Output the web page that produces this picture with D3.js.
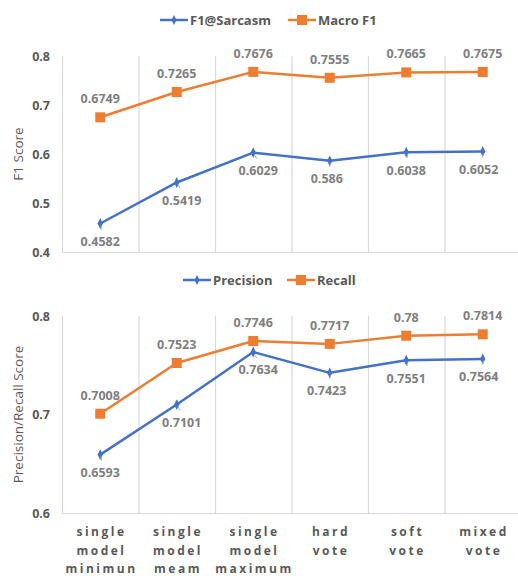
<!DOCTYPE html>
<html>
<head>
<meta charset="utf-8">
<script src="https://cdn.jsdelivr.net/npm/d3@7"></script>
<style>
  body { margin: 0; background: #fff; }
  svg { display: block; font-family: "Open Sans", "Noto Sans", sans-serif; }
</style>
</head>
<body>
<svg id="chart" width="518" height="576"></svg>
<script>
// ---- data ----
const categories = ["single model minimun", "single model meam", "single model maximum", "hard vote", "soft vote", "mixed vote"];
const categoryLines = [["single", "model", "minimun"], ["single", "model", "meam"], ["single", "model", "maximum"], ["hard", "vote"], ["soft", "vote"], ["mixed", "vote"]];
const f1Sarcasm = [0.4582, 0.5419, 0.6029, 0.586, 0.6038, 0.6052];
const macroF1 = [0.6749, 0.7265, 0.7676, 0.7555, 0.7665, 0.7675];
const precision = [0.6593, 0.7101, 0.7634, 0.7423, 0.7551, 0.7564];
const recall = [0.7008, 0.7523, 0.7746, 0.7717, 0.78, 0.7814];
const topTicks = [0.4, 0.5, 0.6, 0.7, 0.8];
const bottomTicks = [0.6, 0.7, 0.8];

// ---- styling ----
const BLUE = "#4472C4", ORANGE = "#ED7D31", GRID = "#d9d9d9", TXT = "#595959", LBL = "#7f7f7f";
const belowDx = [0, 5, 5, -3, 0, -4];

const svg = d3.select("#chart");
const x = d3.scaleBand().domain(categories).range([62, 521]);
const cx = c => x(c) + x.bandwidth() / 2;

function panel(cfg) {
  const y = d3.scaleLinear().domain(cfg.domain).range([cfg.bottom, cfg.top]);
  const g = svg.append("g");

  // vertical gridlines
  g.selectAll("line.grid").data(categories).enter().append("line")
    .attr("x1", d => x(d) + 0.5).attr("x2", d => x(d) + 0.5)
    .attr("y1", cfg.top).attr("y2", cfg.bottom)
    .attr("stroke", GRID).attr("stroke-width", 1.2);
  // baseline
  g.append("line").attr("x1", 62).attr("x2", 518)
    .attr("y1", cfg.bottom + 0.5).attr("y2", cfg.bottom + 0.5)
    .attr("stroke", GRID).attr("stroke-width", 1.2);

  // y axis labels
  const ax = g.append("g").attr("transform", "translate(50,0)")
    .call(d3.axisLeft(y).tickValues(cfg.ticks).tickSize(0).tickPadding(0).tickFormat(d3.format("")));
  ax.select(".domain").remove();
  ax.selectAll("text").attr("fill", TXT).style("font-size", "12.5px").style("font-weight", "bold")
    .style("font-family", '"Open Sans", sans-serif');

  // y title
  g.append("text").attr("transform", `translate(18,${(cfg.top + cfg.bottom) / 2}) rotate(-90)`)
    .attr("text-anchor", "middle").attr("dy", "0.35em").attr("fill", TXT).style("font-size", "13.5px")
    .text(cfg.yTitle);

  const line = d3.line().x((d, i) => cx(categories[i])).y(d => y(d));

  [cfg.lower, cfg.upper].forEach(s => {
    g.append("path").datum(s.values).attr("d", line)
      .attr("fill", "none").attr("stroke", s.color).attr("stroke-width", 2.5)
      .attr("stroke-linejoin", "round");
  });

  // markers
  g.selectAll("path.dia").data(cfg.lower.values).enter().append("path")
    .attr("d", d3.symbol().type(d3.symbolDiamond).size(34))
    .attr("transform", (d, i) => `translate(${cx(categories[i])},${y(d)}) scale(0.85,1)`)
    .attr("fill", BLUE);
  g.selectAll("rect.sq").data(cfg.upper.values).enter().append("rect")
    .attr("x", (d, i) => cx(categories[i]) - 5).attr("y", d => y(d) - 5)
    .attr("width", 10).attr("height", 10).attr("fill", ORANGE);

  // leader lines for lower labels
  g.selectAll("line.lead").data(cfg.lower.values).enter().append("line")
    .attr("x1", (d, i) => cx(categories[i]) + 1)
    .attr("y1", d => y(d) + 2)
    .attr("x2", (d, i) => cx(categories[i]) + 1 + belowDx[i] * 0.5)
    .attr("y2", d => y(d) + 6)
    .attr("stroke", "#a6a6a6").attr("stroke-width", 1);

  // labels
  g.selectAll("text.lo").data(cfg.lower.values).enter().append("text")
    .attr("x", (d, i) => cx(categories[i]) + belowDx[i])
    .attr("y", d => y(d) + 18).attr("dy", "0.35em")
    .attr("text-anchor", "middle").attr("fill", LBL)
    .style("font-size", "12.5px").style("font-weight", "bold")
    .text(d => d);
  g.selectAll("text.up").data(cfg.upper.values).enter().append("text")
    .attr("x", (d, i) => cx(categories[i]))
    .attr("y", d => y(d) - 18.5).attr("dy", "0.35em")
    .attr("text-anchor", "middle").attr("fill", LBL)
    .style("font-size", "12.5px").style("font-weight", "bold")
    .text(d => d);

  // legend
  const lg = g.append("g");
  const items = [
    { name: cfg.lower.name, color: BLUE, marker: "dia", x0: cfg.legendX[0] },
    { name: cfg.upper.name, color: ORANGE, marker: "sq", x0: cfg.legendX[1] }
  ];
  items.forEach(it => {
    lg.append("line").attr("x1", it.x0).attr("x2", it.x0 + 28)
      .attr("y1", cfg.legendY).attr("y2", cfg.legendY)
      .attr("stroke", it.color).attr("stroke-width", 2.5);
    if (it.marker === "dia") {
      lg.append("path").attr("d", d3.symbol().type(d3.symbolDiamond).size(30))
        .attr("transform", `translate(${it.x0 + 14},${cfg.legendY}) scale(0.85,1)`).attr("fill", it.color);
    } else {
      lg.append("rect").attr("x", it.x0 + 9).attr("y", cfg.legendY - 5).attr("width", 10).attr("height", 10)
        .attr("fill", it.color);
    }
    lg.append("text").attr("x", it.x0 + 30).attr("y", cfg.legendY).attr("dy", "0.35em")
      .attr("fill", TXT).style("font-size", "13px").style("font-weight", "bold").text(it.name);
  });
}

panel({
  domain: [0.4, 0.8], top: 56, bottom: 252, ticks: topTicks, yTitle: "F1 Score",
  lower: { name: "F1@Sarcasm", values: f1Sarcasm, color: BLUE },
  upper: { name: "Macro F1", values: macroF1, color: ORANGE },
  legendY: 20, legendX: [160, 288]
});
panel({
  domain: [0.6, 0.8], top: 316, bottom: 513, ticks: bottomTicks, yTitle: "Precision/Recall Score",
  lower: { name: "Precision", values: precision, color: BLUE },
  upper: { name: "Recall", values: recall, color: ORANGE },
  legendY: 280, legendX: [183, 287]
});

// x category labels
const xl = svg.append("g");
categoryLines.forEach((lines, i) => {
  const t = xl.append("text").attr("x", cx(categories[i]) + 1.25).attr("y", 532)
    .attr("text-anchor", "middle").attr("fill", TXT)
    .style("font-size", "12px").style("font-weight", "bold").style("letter-spacing", "2.5px");
  lines.forEach((ln, j) => {
    t.append("tspan").attr("x", cx(categories[i]) + 1.25).attr("y", 532 + j * 18.5).attr("dy", "0.35em").text(ln);
  });
});
</script>
</body>
</html>
